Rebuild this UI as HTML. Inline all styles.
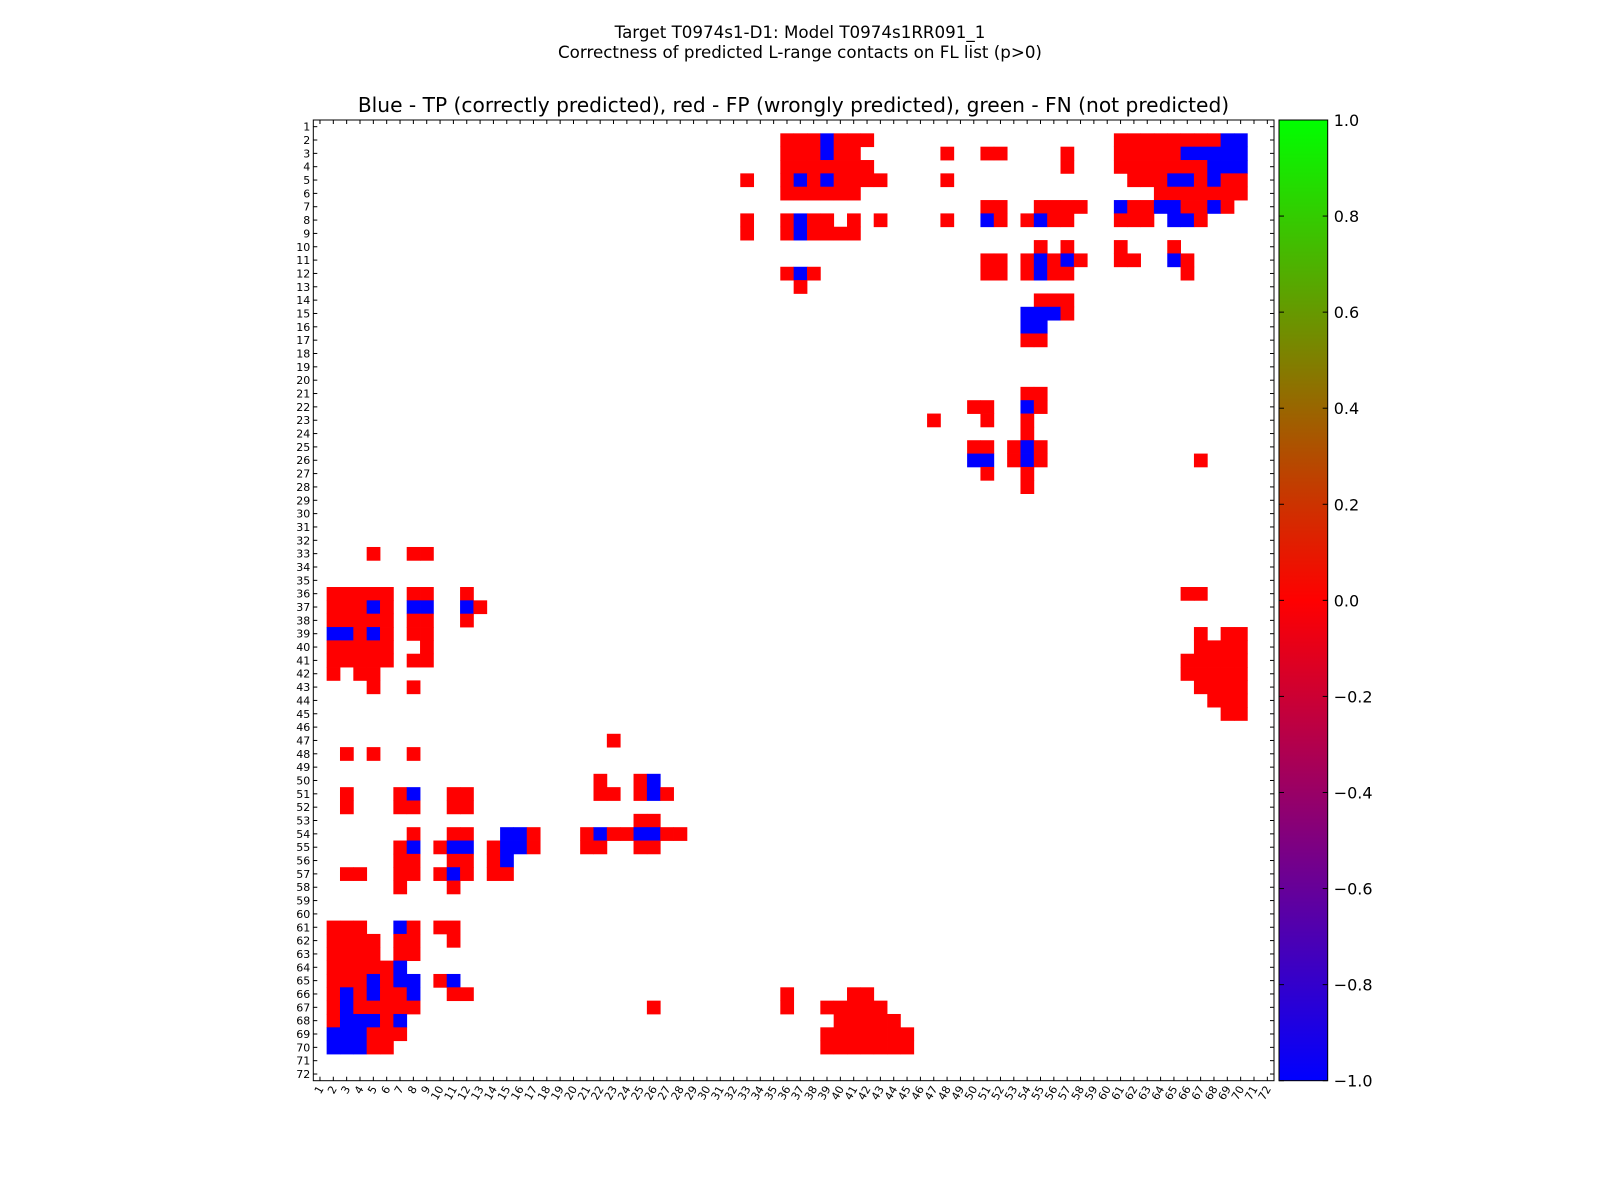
<!DOCTYPE html>
<html><head><meta charset="utf-8"><style>
html,body{margin:0;padding:0;background:#fff;}
svg{display:block;font-family:"DejaVu Sans","Liberation Sans",sans-serif;}
</style></head><body>
<svg id="chart" width="1600" height="1200" viewBox="0 0 1600 1200" xmlns="http://www.w3.org/2000/svg">
<rect width="1600" height="1200" fill="#fff"/>
<text x="800" y="38" font-size="16.7" text-anchor="middle">Target T0974s1-D1: Model T0974s1RR091_1</text>
<text x="800" y="58" font-size="16.7" text-anchor="middle">Correctness of predicted L-range contacts on FL list (p&gt;0)</text>
<text x="793.5" y="112" font-size="20.2" text-anchor="middle">Blue - TP (correctly predicted), red - FP (wrongly predicted), green - FN (not predicted)</text>
<g id="cells"></g>
<g id="axes"></g>
<defs><linearGradient id="cmap" x1="0" y1="1" x2="0" y2="0">
<stop offset="0" stop-color="#0000ff"/><stop offset="0.5" stop-color="#ff0000"/><stop offset="1" stop-color="#00ff00"/>
</linearGradient></defs>
<rect x="1279" y="120" width="48.7" height="960.7" fill="url(#cmap)" stroke="#000" stroke-width="1"/>
<g id="cbar"></g>
</svg>
<script>
const nResidues = 72;
const runRow = [
2,2,2,2,2,
3,3,3,3,3,3,3,3,
4,4,4,4,
5,5,5,5,5,5,5,5,5,5,5,5,
6,6,
7,7,7,7,7,7,7,7,
8,8,8,8,8,8,8,8,8,8,8,8,8,8,8,
9,9,9,9,
10,10,10,10,
11,11,11,11,11,11,11,11,11,
12,12,12,12,12,12,12,12,
13,14,15,15,16,17,21,
22,22,22,
23,23,23,
24,
25,25,25,25,
26,26,26,26,26,
27,27,28,
33,33,
36,36,36,36,
37,37,37,37,37,37,
38,38,38,
39,39,39,39,39,39,39,
40,40,40,
41,41,41,
42,42,42,
43,43,43,
44,45,47,
48,48,48,
50,50,50,
51,51,51,51,51,51,51,51,
52,52,52,
53,
54,54,54,54,54,54,54,54,54,
55,55,55,55,55,55,55,55,55,
56,56,56,56,
57,57,57,57,57,57,
58,58,
61,61,61,61,
62,62,62,
63,63,
64,64,
65,65,65,65,65,65,
66,66,66,66,66,66,66,66,66,
67,67,67,67,67,67,
68,68,68,68,68,
69,69,69,
70,70,70];
const runStart = [
36,39,40,61,69,
36,39,40,48,51,57,61,66,
36,57,61,68,
33,36,37,38,39,40,48,62,65,67,68,69,
36,64,
51,55,61,62,64,66,68,69,
33,36,37,38,41,43,48,51,52,54,55,56,61,65,67,
33,36,37,38,
55,57,61,65,
51,54,55,56,57,58,61,65,66,
36,37,38,51,54,55,56,66,
37,55,54,57,54,54,54,
50,54,55,
47,51,54,
54,
50,53,54,55,
50,53,54,55,67,
51,54,54,
5,8,
2,8,12,66,
2,5,6,8,12,13,
2,8,12,
2,4,5,6,8,67,69,
2,9,67,
2,8,66,
2,4,66,
5,8,67,
68,69,23,
3,5,8,
22,25,26,
3,7,8,11,22,25,26,27,
3,7,11,
25,
8,11,15,17,21,22,23,25,27,
7,8,10,11,14,15,17,21,25,
7,11,14,15,
3,7,10,11,12,14,
7,11,
2,7,8,10,
2,7,11,
2,7,
2,7,
2,5,6,7,10,11,
2,3,4,5,6,8,11,36,41,
2,3,4,26,36,39,
2,3,6,7,40,
2,5,39,
2,5,39];
const runEnd = [
38,39,42,68,70,
38,39,41,48,52,57,65,70,
42,57,67,70,
33,36,37,38,39,43,48,64,66,67,68,70,
41,70,
52,58,61,63,65,67,68,69,
33,36,37,39,41,43,48,51,52,54,55,57,63,66,67,
33,36,37,41,
55,57,61,65,
52,54,55,56,57,58,62,65,66,
36,37,38,52,54,55,57,66,
37,57,56,57,55,55,55,
51,54,55,
47,51,54,
54,
51,53,54,55,
51,53,54,55,67,
51,54,54,
5,9,
6,9,12,67,
4,5,6,9,12,13,
6,9,12,
3,4,5,6,9,67,70,
6,9,70,
6,9,70,
2,5,70,
5,8,70,
70,70,23,
3,5,8,
22,25,26,
3,7,8,12,23,25,26,27,
3,8,12,
26,
8,12,16,17,21,22,24,26,28,
7,8,10,12,14,16,17,22,26,
8,12,14,15,
4,8,10,11,12,15,
7,11,
4,7,8,11,
5,8,11,
5,8,
6,7,
4,5,6,8,10,11,
2,3,4,5,7,8,12,36,42,
2,3,8,26,36,43,
2,5,6,7,44,
4,7,45,
4,6,45];
const runValue = [
0,-1,0,0,-1,
0,-1,0,0,0,0,0,-1,
0,0,0,-1,
0,0,-1,0,-1,0,0,0,-1,0,-1,0,
0,0,
0,0,-1,0,-1,0,-1,0,
0,0,-1,0,0,0,0,-1,0,0,-1,0,0,-1,0,
0,0,-1,0,
0,0,0,0,
0,0,-1,0,-1,0,0,-1,0,
0,-1,0,0,0,-1,0,0,
0,0,-1,0,-1,0,0,
0,-1,0,
0,0,0,
0,
0,0,-1,0,
-1,0,-1,0,0,
0,0,0,
0,0,
0,0,0,0,
0,-1,0,-1,-1,0,
0,0,0,
-1,0,-1,0,0,0,0,
0,0,0,
0,0,0,
0,0,0,
0,0,0,
0,0,0,
0,0,0,
0,0,-1,
0,0,-1,0,0,0,-1,0,
0,0,0,
0,
0,0,-1,0,0,-1,0,-1,0,
0,-1,0,-1,0,-1,0,0,0,
0,0,0,-1,
0,0,0,-1,0,0,
0,0,
0,-1,0,0,
0,0,0,
0,0,
0,-1,
0,-1,0,-1,0,-1,
0,-1,0,-1,0,-1,0,0,0,
0,-1,0,0,0,0,
0,-1,0,-1,0,
-1,0,0,
-1,0,0];
const cbarTicks = [-1.0,-0.8,-0.6,-0.4,-0.2,0.0,0.2,0.4,0.6,0.8,1.0];

const NS = "http://www.w3.org/2000/svg";
const plotX = 313.3, plotY = 120, plotW = 960.7, plotH = 960.7;
const cell = plotW / nResidues;
function xOf(c){ return plotX + (c-1)*cell; }
function yOf(r){ return plotY + (r-1)*cell; }
function colorOf(v){
  if (v <= 0){ const t = v+1; return `rgb(${Math.round(255*t)},0,${Math.round(255*(1-t))})`; }
  return `rgb(${Math.round(255*(1-v))},${Math.round(255*v)},0)`;
}
function mk(tag, attrs, parent){
  const e = document.createElementNS(NS, tag);
  for (const k in attrs) e.setAttribute(k, attrs[k]);
  parent.appendChild(e); return e;
}
const gCells = document.getElementById('cells');
for (let i=0;i<runRow.length;i++){
  for (let c=runStart[i]; c<=runEnd[i]; c++){
    const r = mk('rect', {x:xOf(c).toFixed(2), y:yOf(runRow[i]).toFixed(2), width:(cell+0.4).toFixed(2), height:(cell+0.4).toFixed(2), fill:colorOf(runValue[i])}, gCells);
    
    
  }
}
const gAx = document.getElementById('axes');
const frame = mk('rect', {x:plotX, y:plotY, width:plotW, height:plotH, fill:'none', stroke:'#000', 'stroke-width':1}, gAx);


for (let i=1;i<=nResidues;i++){
  const cx = xOf(i)+cell/2, cy = yOf(i)+cell/2;
  mk('line', {x1:plotX, x2:plotX+4, y1:cy, y2:cy, stroke:'#000'}, gAx);
  mk('line', {x1:plotX+plotW, x2:plotX+plotW-4, y1:cy, y2:cy, stroke:'#000'}, gAx);
  mk('line', {x1:cx, x2:cx, y1:plotY, y2:plotY+4, stroke:'#000'}, gAx);
  mk('line', {x1:cx, x2:cx, y1:plotY+plotH, y2:plotY+plotH-4, stroke:'#000'}, gAx);
  const yl = mk('text', {x:plotX-3, y:cy+4, 'font-size':11, 'text-anchor':'end'}, gAx);
  yl.textContent = String(i);
  
  
  const xl = mk('text', {x:0, y:0, 'font-size':11, 'text-anchor':'end', transform:`translate(${(cx+4).toFixed(2)},${plotY+plotH+8}) rotate(-60)`}, gAx);
  xl.textContent = String(i);
  
  
}
const gCb = document.getElementById('cbar');
const cbX = 1279, cbW = 48.7;
for (const t of cbarTicks){
  const y = plotY + plotH - (t+1)/2*plotH;
  mk('line', {x1:cbX, x2:cbX+5, y1:y, y2:y, stroke:'#000'}, gCb);
  mk('line', {x1:cbX+cbW, x2:cbX+cbW-5, y1:y, y2:y, stroke:'#000'}, gCb);
  const tl = mk('text', {x:cbX+cbW+6, y:y+6, 'font-size':16}, gCb);
  tl.textContent = (t<0?'\u2212':'') + Math.abs(t).toFixed(1);
  
  
}
</script>
</body></html>
